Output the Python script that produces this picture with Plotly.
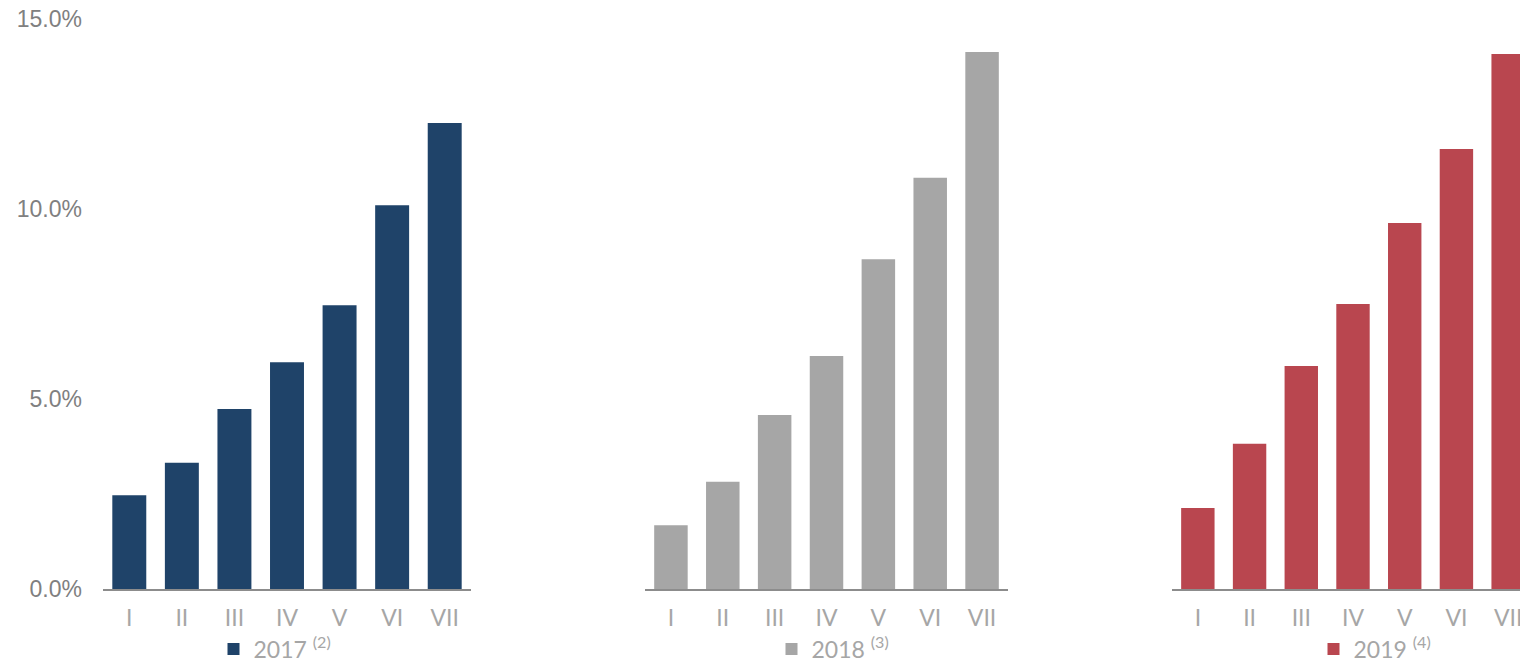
import plotly.graph_objects as go

categories = ["I", "II", "III", "IV", "V", "VI", "VII"]
values_2017 = [2.47, 3.32, 4.74, 5.97, 7.47, 10.10, 12.26]
values_2018 = [1.68, 2.82, 4.58, 6.13, 8.68, 10.82, 14.13]
values_2019 = [2.13, 3.82, 5.87, 7.50, 9.63, 11.58, 14.08]
series_names = ["2017 <sup>(2)</sup>", "2018 <sup>(3)</sup>", "2019 <sup>(4)</sup>"]
colors = ["#1F4369", "#A6A6A6", "#B9464F"]
y_ticks = [0, 5, 10, 15]
y_ticktext = [f"{v:.1f}%" for v in y_ticks]

W, H = 1520, 659
fig = go.Figure()

all_values = [values_2017, values_2018, values_2019]
for i, (vals, name, col) in enumerate(zip(all_values, series_names, colors)):
    sfx = "" if i == 0 else str(i + 1)
    fig.add_trace(go.Bar(
        x=categories, y=vals, name=name, marker=dict(color=col, line=dict(width=0)),
        xaxis="x" + sfx, yaxis="y" + sfx, legend="legend" + sfx,
        hoverinfo="skip",
    ))

# pixel layout of panels
panel_px = [(103, 471), (645, 1008), (1172, 1534)]
y_bottom_px, y_top_px = 589, 19
ydom = [(H - y_bottom_px) / H, (H - y_top_px) / H]

tickfont_x = dict(family="Lato, Open Sans, sans-serif", size=23, color="#A6A6A6")
tickfont_y = dict(family="Liberation Sans, Arial, sans-serif", size=23, color="#808080")

layout = dict(
    width=W, height=H,
    margin=dict(l=0, r=0, t=0, b=0, autoexpand=False),
    paper_bgcolor="white", plot_bgcolor="white",
    bargap=0.354,
    showlegend=True,
)

legend_cx = [275, 833, 1375]
for i, (x0, x1) in enumerate(panel_px):
    sfx = "" if i == 0 else str(i + 1)
    pitch = (x1 - x0) / 7.0
    x1c = min(x1, W)
    rng_max = -0.5 + (x1c - x0) / pitch
    layout["xaxis" + sfx] = dict(
        domain=[x0 / W, x1c / W], anchor="y" + sfx, type="category",
        range=[-0.5, rng_max], showline=True, linecolor="#8C8C8C", linewidth=2,
        showgrid=False, zeroline=False, ticks="", tickfont=tickfont_x,
        ticklabelstandoff=7, fixedrange=True, automargin=False,
    )
    layout["yaxis" + sfx] = dict(
        domain=ydom, anchor="x" + sfx, range=[0, 15],
        showgrid=False, zeroline=False, showline=False,
        tickvals=y_ticks, ticktext=y_ticktext,
        showticklabels=(i == 0), tickfont=tickfont_y, ticks="",
        ticklabelstandoff=20, fixedrange=True, automargin=False,
    )
    layout["legend" + sfx] = dict(
        x=legend_cx[i] / W, xanchor="center", y=(H - 649) / H, yanchor="middle",
        orientation="h", bgcolor="rgba(0,0,0,0)", borderwidth=0,
        font=dict(family="Lato, Open Sans, sans-serif", size=23, color="#A6A6A6"),
        itemclick=False, itemdoubleclick=False,
    )

fig.update_layout(**layout)
fig.write_html("out.html", config={"displayModeBar": False})
